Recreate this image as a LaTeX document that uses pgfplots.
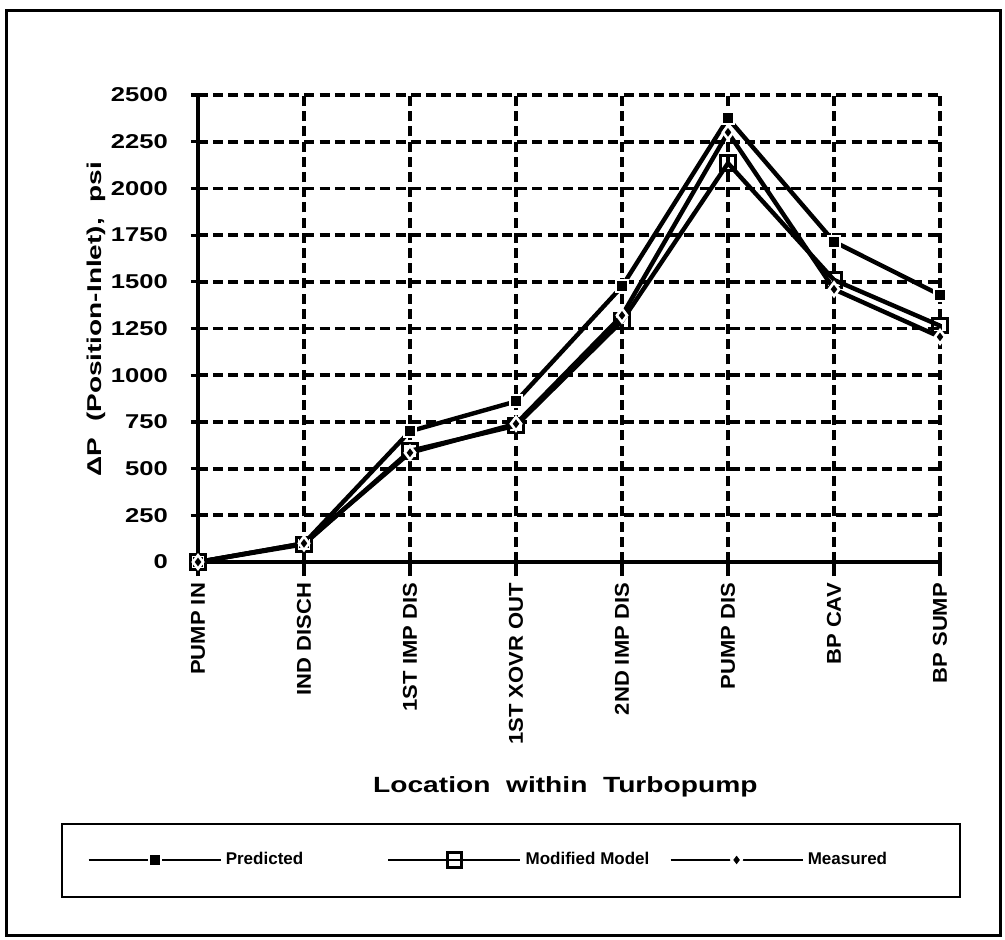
\documentclass[border=0pt]{standalone}
\usepackage{fontspec}
\setmainfont{Liberation Sans}
\newfontfamily\widefont[FakeStretch=1.28]{Liberation Sans}
\newfontfamily\labelfont[FakeStretch=1.4]{Liberation Sans}
\newfontfamily\midfont[FakeStretch=1.1]{Liberation Sans}
\usepackage{pgfplots}
\usepackage{pgfplotstable}
\pgfplotsset{compat=1.18}

% pressure rise relative to pump inlet, psi
\pgfplotstableread{
x pred mod meas
0 0    0    0
1 100  95   100
2 700  595  585
3 860  730  740
4 1475 1290 1320
5 2375 2135 2300
6 1715 1510 1460
7 1430 1265 1205
}\pumpdata

\begin{document}
\begin{tikzpicture}
\path[use as bounding box] (-99pt,-188.5pt) rectangle (403.5pt,281pt);
\begin{axis}[
    width=371pt, height=233.5pt, scale only axis,
    xmin=0, xmax=7, ymin=0, ymax=2500,
    xtick={0,...,7},
    xticklabels={PUMP IN, IND DISCH, 1ST IMP DIS, 1ST XOVR OUT, 2ND IMP DIS, PUMP DIS, BP CAV, BP SUMP},
    ytick={0,250,...,2500},
    axis x line=bottom, axis y line=left,
    axis line style={-, line width=1.9pt},
    xtick align=outside, ytick align=center,
    major tick length=7pt,
    tick style={black, line width=1.6pt},
    grid=major,
    major grid style={black, line width=1.9pt, dash pattern=on 5pt off 2.6pt},
    xticklabel style={rotate=90, anchor=east, font=\midfont\bfseries\fontsize{10}{12}\selectfont},
    yticklabel style={font=\widefont\bfseries\fontsize{10}{12}\selectfont, xshift=-8pt},
    /pgf/number format/assume math mode=true,
    /pgf/number format/1000 sep={},
    xlabel={Location\ \ within\ \ Turbopump},
    ylabel={ΔP\ \ (Position-Inlet),\ \ psi},
    xlabel style={at={(axis description cs:0.495,-0.482)}, anchor=center, font=\widefont\bfseries\fontsize{11}{13}\selectfont},
    ylabel style={at={(axis description cs:-0.137,0.52)}, anchor=center, font=\labelfont\bfseries\fontsize{10}{12}\selectfont},
    clip=false,
    legend columns=3,
    legend style={at={(axis description cs:-0.1496,-0.638)}, anchor=west, draw=none, fill=none,
        font=\bfseries\fontsize{8.5}{10}\selectfont, column sep=0pt, inner sep=0pt,
        /tikz/column 2/.style={column sep=40pt}, /tikz/column 4/.style={column sep=8pt}},
    legend image code/.code={
        \draw[mark repeat=2, mark phase=2, #1, line width=1.2pt]
        plot coordinates {(0pt,0pt) (33pt,0pt) (66pt,0pt)};
    },
]
\addplot[black, line width=2.2pt, mark=square*, mark size=3pt,
    mark options={solid, fill=black, draw=white, line width=1pt}]
    table[x=x, y=pred] {\pumpdata};
\addlegendentry{Predicted}
\addplot[black, line width=2.2pt, mark=square, mark size=3.6pt,
    mark options={solid, fill=white, draw=black, line width=1.5pt}]
    table[x=x, y=mod] {\pumpdata};
\addlegendentry{Modified Model}
\addplot[black, line width=2.2pt, mark=diamond*, mark size=3.4pt,
    mark options={solid, fill=black, draw=white, line width=1.3pt}]
    table[x=x, y=meas] {\pumpdata};
\addlegendentry{Measured}
\end{axis}
\draw[line width=1.5pt] (-95.5pt,276pt) rectangle (401pt,-186.5pt);
\draw[line width=1.3pt] (-68pt,-131pt) rectangle (381pt,-167.5pt);
\end{tikzpicture}
\end{document}
